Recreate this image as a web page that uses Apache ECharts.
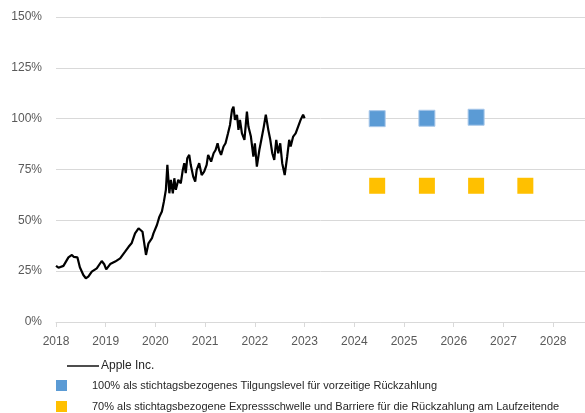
<!DOCTYPE html>
<html>
<head>
<meta charset="utf-8">
<script src="https://cdn.jsdelivr.net/npm/echarts@6/dist/echarts.min.js"></script>
<style>
  html, body { margin: 0; padding: 0; background: #fff; }
  #chart { width: 585px; height: 413px; }
</style>
</head>
<body>
<div id="chart"></div>
<script>
// Apple Inc. Kursverlauf (in % vom Referenzwert), x = Jahr als Dezimalzahl
var appleYears = [
  2018.00, 2018.05, 2018.15, 2018.25, 2018.32, 2018.36, 2018.43, 2018.48, 2018.55, 2018.60,
  2018.65, 2018.72, 2018.82, 2018.92, 2018.97, 2019.01, 2019.09, 2019.19, 2019.29, 2019.39,
  2019.46, 2019.52, 2019.59, 2019.66, 2019.70, 2019.74, 2019.77, 2019.81, 2019.86, 2019.93,
  2019.96, 2020.03, 2020.08, 2020.13, 2020.17, 2020.21, 2020.24, 2020.28, 2020.31, 2020.35,
  2020.38, 2020.41, 2020.46, 2020.51, 2020.55, 2020.58, 2020.61, 2020.64, 2020.68, 2020.71,
  2020.76, 2020.80, 2020.83, 2020.88, 2020.93, 2020.98, 2021.03, 2021.06, 2021.12, 2021.17,
  2021.21, 2021.25, 2021.28, 2021.32, 2021.37, 2021.41, 2021.46, 2021.50, 2021.54, 2021.57,
  2021.60, 2021.64, 2021.67, 2021.70, 2021.74, 2021.79, 2021.84, 2021.87, 2021.92, 2021.97,
  2022.00, 2022.04, 2022.09, 2022.13, 2022.18, 2022.22, 2022.27, 2022.31, 2022.35, 2022.39,
  2022.43, 2022.47, 2022.51, 2022.55, 2022.60, 2022.65, 2022.69, 2022.72, 2022.77, 2022.82,
  2022.87, 2022.92, 2022.97, 2023.00
];
var appleValues = [
  27.6, 26.7, 27.6, 31.8, 33.0, 32.0, 31.8, 26.9, 23.1, 21.5,
  22.3, 24.8, 26.4, 30.0, 28.4, 25.9, 28.5, 29.7, 31.3, 34.6,
  37.0, 38.7, 43.6, 46.1, 46.9, 44.4, 39.5, 33.0, 38.7, 41.2,
  43.6, 47.7, 51.8, 54.3, 59.2, 65.0, 77.3, 63.3, 69.9, 63.3,
  70.7, 65.0, 69.9, 68.2, 74.8, 78.1, 73.2, 80.5, 82.2, 77.3,
  71.5, 69.0, 74.8, 78.1, 72.3, 74.0, 77.3, 82.2, 78.9, 83.0,
  84.6, 87.9, 84.6, 82.2, 86.3, 87.9, 92.8, 96.9, 104.3, 105.9,
  99.4, 101.9, 94.5, 99.4, 92.8, 89.6, 103.5, 96.1, 91.2, 81.3,
  87.9, 76.4, 84.6, 89.6, 96.1, 101.9, 94.5, 89.6, 83.0, 79.7,
  89.6, 83.0, 87.9, 78.1, 72.3, 81.3, 89.6, 86.3, 91.2, 92.8,
  96.1, 99.4, 101.9, 100.2
];

// Beobachtungstage
var tilgungYears = [2024.46, 2025.46, 2026.45];
var tilgungValues = [100, 100.2, 100.7];
var expressYears = [2024.46, 2025.46, 2026.45, 2027.44];
var expressValues = [67, 67, 67, 67];

var nameApple = 'Apple Inc.';
var nameTilgung = '100% als stichtagsbezogenes Tilgungslevel für vorzeitige Rückzahlung';
var nameExpress = '70% als stichtagsbezogene Expressschwelle und Barriere für die Rückzahlung am Laufzeitende';

function pairs(xs, ys) {
  var out = [];
  for (var i = 0; i < xs.length; i++) out.push([xs[i], ys[i]]);
  return out;
}

var font = 'Liberation Sans';
var chart = echarts.init(document.getElementById('chart'));
var option = {
  animation: false,
  textStyle: { fontFamily: font },
  grid: { left: 56, right: 0, top: 17, bottom: 91 },
  legend: [
    {
      data: [nameApple],
      left: 67, top: 360, padding: 0,
      itemWidth: 32, itemHeight: 14,
      icon: 'path://M0,6.3L32,6.3L32,7.7L0,7.7Z',
      textStyle: { fontSize: 12, color: '#262626', fontFamily: font, padding: [0, 0, 0, -3] }
    },
    {
      data: [nameTilgung],
      left: 56, top: 380, padding: 0,
      itemWidth: 11, itemHeight: 11,
      icon: 'rect',
      itemStyle: { borderWidth: 0 },
      textStyle: { fontSize: 11, color: '#262626', fontFamily: font, padding: [0, 0, 0, 20] }
    },
    {
      data: [nameExpress],
      left: 56, top: 401, padding: 0,
      itemWidth: 11, itemHeight: 11,
      icon: 'rect',
      textStyle: { fontSize: 11, color: '#262626', fontFamily: font, padding: [0, 0, 0, 20] }
    }
  ],
  xAxis: {
    type: 'value',
    min: 2018, max: 2028.64, interval: 1,
    axisLine: { show: true, lineStyle: { color: '#d9d9d9' } },
    axisTick: { show: true, length: 5, lineStyle: { color: '#d9d9d9' } },
    splitLine: { show: false },
    axisLabel: {
      color: '#595959', fontSize: 12, margin: 14,
      showMaxLabel: false,
      formatter: function (v) { return String(v); }
    }
  },
  yAxis: {
    type: 'value',
    min: 0, max: 150, interval: 25,
    axisLine: { show: false },
    axisTick: { show: false },
    splitLine: { lineStyle: { color: '#d9d9d9' } },
    axisLabel: {
      color: '#595959', fontSize: 12, margin: 14,
      formatter: '{value}%'
    }
  },
  series: [
    {
      name: nameApple,
      type: 'line',
      data: pairs(appleYears, appleValues),
      showSymbol: false,
      symbol: 'none',
      color: '#000',
      lineStyle: { color: '#000', width: 2.2 }
    },
    {
      name: nameTilgung,
      type: 'scatter',
      data: pairs(tilgungYears, tilgungValues),
      symbol: 'rect',
      symbolSize: 16,
      color: '#5b9bd5',
      itemStyle: { color: '#5b9bd5', borderColor: '#a9c8ea', borderWidth: 1, opacity: 1 }
    },
    {
      name: nameExpress,
      type: 'scatter',
      data: pairs(expressYears, expressValues),
      symbol: 'rect',
      symbolSize: 16,
      color: '#ffc000',
      itemStyle: { color: '#ffc000', opacity: 1 }
    }
  ]
};
chart.setOption(option);
window.addEventListener('resize', function () { chart.resize(); });
</script>
</body>
</html>
